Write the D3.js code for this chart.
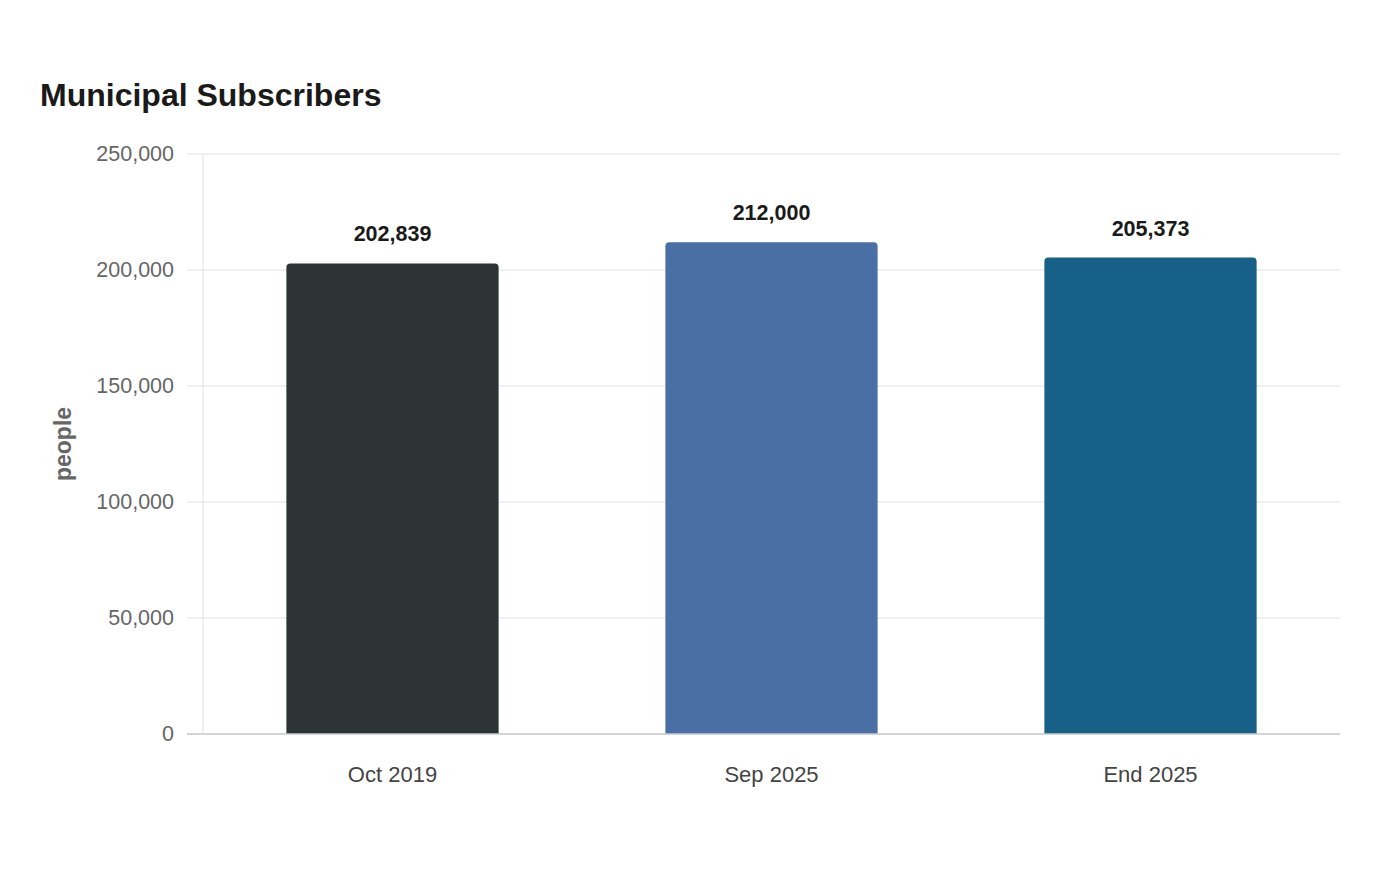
<!DOCTYPE html>
<html>
<head>
<meta charset="utf-8">
<script src="https://cdn.jsdelivr.net/npm/d3@7"></script>
<style>
  body { margin: 0; background: #fff; }
  text { font-family: "Liberation Sans", Arial, sans-serif; }
</style>
</head>
<body>
<script>
// data
var categories = ["Oct 2019", "Sep 2025", "End 2025"];
var values = [202839, 212000, 205373];
var colors = ["#2d3436", "#4a6fa5", "#176087"];
var yTicks = [0, 50000, 100000, 150000, 200000, 250000];

var w = 1400, h = 880;
var m = {top: 154, right: 60, bottom: 146, left: 203};
var iw = w - m.left - m.right, ih = h - m.top - m.bottom;

var svg = d3.select("body").append("svg")
  .attr("width", w).attr("height", h);

svg.append("text")
  .attr("x", 40).attr("y", 106)
  .attr("font-size", 32).attr("font-weight", "bold")
  .attr("fill", "#1a1a1a")
  .text("Municipal Subscribers");

var g = svg.append("g").attr("transform", "translate(" + m.left + "," + m.top + ")");

var x = d3.scaleBand().domain(categories).range([0, iw]).padding(0);
var y = d3.scaleLinear().domain([0, 250000]).range([ih, 0]);

// gridlines
g.selectAll(".grid").data(yTicks).enter().append("line")
  .attr("x1", -16).attr("x2", iw)
  .attr("y1", function(d){ return y(d); })
  .attr("y2", function(d){ return y(d); })
  .attr("stroke", "#ebebeb").attr("stroke-width", 1.5);

// y axis line
g.append("line")
  .attr("x1", 0).attr("x2", 0).attr("y1", 0).attr("y2", ih)
  .attr("stroke", "#e0e0e0").attr("stroke-width", 1);

// y tick labels
var yAxis = g.append("g").call(d3.axisLeft(y).tickValues(yTicks).tickFormat(d3.format(",")).tickSize(0).tickPadding(29));
yAxis.select(".domain").remove();
yAxis.selectAll("text").attr("font-size", 21.5).attr("fill", "#666")
  .style("font-family", "Liberation Sans, Arial, sans-serif");

// bars with rounded tops
var bw = x.bandwidth() * 0.56, r = 4;
function barPath(d, i) {
  var x0 = x(categories[i]) + (x.bandwidth() - bw) / 2, x1 = x0 + bw;
  var y0 = y(d), yb = y(0);
  return "M" + x0 + "," + yb + "V" + (y0 + r) + "Q" + x0 + "," + y0 + " " + (x0 + r) + "," + y0 +
    "H" + (x1 - r) + "Q" + x1 + "," + y0 + " " + x1 + "," + (y0 + r) + "V" + yb + "Z";
}
g.selectAll(".bar").data(values).enter().append("path")
  .attr("d", barPath)
  .attr("fill", function(d, i){ return colors[i]; });

// value labels
g.selectAll(".val").data(values).enter().append("text")
  .attr("x", function(d, i){ return x(categories[i]) + x.bandwidth() / 2; })
  .attr("y", function(d){ return y(d) - 22; })
  .attr("text-anchor", "middle")
  .attr("font-size", 21.5).attr("font-weight", "bold").attr("fill", "#1a1a1a")
  .text(function(d){ return d3.format(",")(d); });

// x axis
g.append("line")
  .attr("x1", -16).attr("x2", iw).attr("y1", ih).attr("y2", ih)
  .attr("stroke", "#cccccc").attr("stroke-width", 1.5);
var xAxis = g.append("g").attr("transform", "translate(0," + ih + ")")
  .call(d3.axisBottom(x).tickSize(0).tickPadding(32));
xAxis.select(".domain").remove();
xAxis.selectAll("text").attr("font-size", 22).attr("fill", "#444")
  .style("font-family", "Liberation Sans, Arial, sans-serif");

// y axis title
svg.append("text")
  .attr("transform", "translate(71," + (m.top + ih / 2) + ") rotate(-90)")
  .attr("text-anchor", "middle")
  .attr("font-size", 23).attr("font-weight", "bold").attr("fill", "#666")
  .text("people");
</script>
</body>
</html>
